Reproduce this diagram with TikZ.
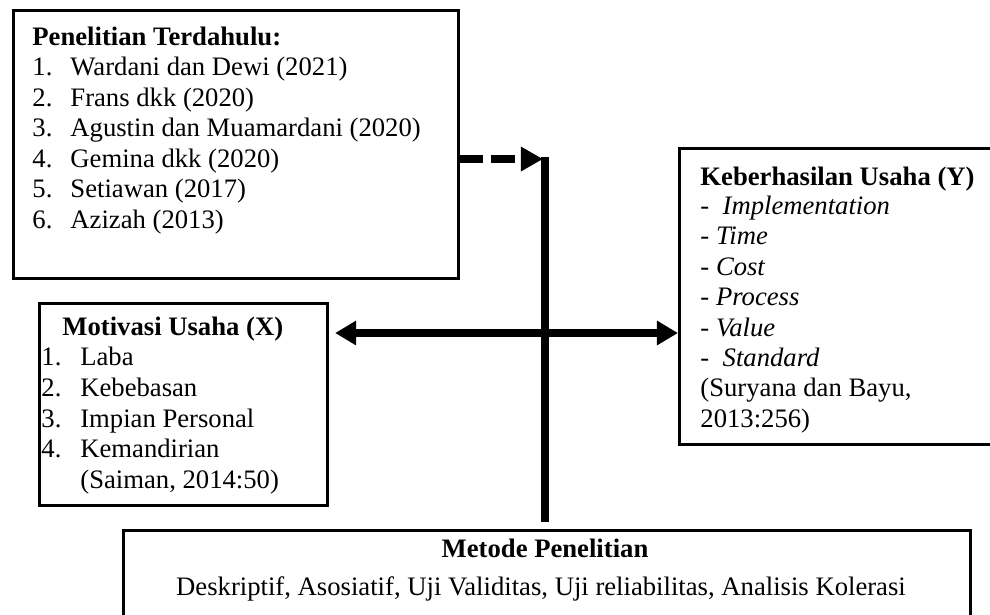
\documentclass[tikz,border=0pt]{standalone}
\usepackage{fontspec}
\setmainfont{Liberation Serif}
\usetikzlibrary{arrows.meta}
\tikzset{frame/.style={draw, line width=1.4pt, inner sep=0pt, anchor=north west}}
\tikzset{txt/.style={inner sep=0pt, anchor=base west, font=\fontsize{12pt}{13.8pt}\selectfont}}
\tikzset{link/.style={line width=3.8pt}}
\tikzset{headtip/.style={-{Triangle[length=10pt,width=10.5pt]}}}
\newcommand{\px}{0.45pt}

\begin{document}
\begin{tikzpicture}[x=0.45pt,y=-0.45pt]
    \useasboundingbox (0,0) rectangle (990,614);
    % frames
    \node[frame, minimum width=445*\px, minimum height=268*\px] (terdahulu) at (12,9) {};
    \node[frame, minimum width=288*\px, minimum height=202*\px] (motivasi) at (38,302) {};
    \node[frame, minimum width=330*\px, minimum height=296*\px] (keberhasilan) at (678,147) {};
    \node[frame, minimum width=847*\px, minimum height=120*\px] (metode) at (122,529) {};

    % Penelitian Terdahulu
    \node[txt] (terdahulu-title) at (32,45) {\bfseries Penelitian Terdahulu:};
    \foreach \i/\tx in {
      1/Wardani dan Dewi (2021),
      2/Frans dkk (2020),
      3/Agustin dan Muamardani (2020),
      4/Gemina dkk (2020),
      5/Setiawan (2017),
      6/Azizah (2013)%
    } {
      \node[txt] (terdahulu-\i) at (32,{45+30.5*\i}) {\makebox[17.1pt][l]{\i.}\tx};
    }

    % Motivasi Usaha (X)
    \node[txt] (motivasi-title) at (62,335) {\bfseries Motivasi Usaha (X)};
    \foreach \i/\tx in {
      1/Laba,
      2/Kebebasan,
      3/Impian Personal,
      4/Kemandirian%
    } {
      \node[txt] (motivasi-\i) at (41,{335+30.7*\i}) {\makebox[17.5pt][l]{\i.}\tx};
    }
    \node[txt] (motivasi-src) at (80,488) {(Saiman, 2014:50)};

    % Keberhasilan Usaha (Y)
    \node[txt] (keberhasilan-title) at (700,185) {\bfseries Keberhasilan Usaha (Y)};
    \foreach \i/\tx in {
      1/{-\ \ \textit{Implementation}},
      2/{- \textit{Time}},
      3/{- \textit{Cost}},
      4/{- \textit{Process}},
      5/{- \textit{Value}},
      6/{-\ \ \textit{Standard}},
      7/{(Suryana dan Bayu,},
      8/{2013:256)}%
    } {
      \node[txt] (keberhasilan-\i) at (700,{184+30.4*\i}) {\tx};
    }

    % Metode Penelitian
    \node[txt, anchor=base] (metode-title) at (545,557) {\bfseries Metode Penelitian};
    \node[txt, anchor=base] (metode-list) at (541,595) {Deskriptif, Asosiatif, Uji Validitas, Uji reliabilitas, Analisis Kolerasi};

    % connectors
    \coordinate (vtop) at (545,157);
    \coordinate (vbot) at (545,522);
    \coordinate (vcross) at (545,333);
    \coordinate (dashend) at (543,159);
    \draw[link, line width=3.6pt] (vtop) -- (vbot);
    \draw[link, headtip, dash pattern=on 10.5pt off 3.5pt] (terdahulu.east |- dashend) -- (dashend);
    \draw[link, {Triangle[length=9.5pt,width=10.5pt]}-{Triangle[length=9.5pt,width=10.5pt]}]
      ([xshift=2.7pt]motivasi.east |- vcross) -- (keberhasilan.west |- vcross);
\end{tikzpicture}
\end{document}
